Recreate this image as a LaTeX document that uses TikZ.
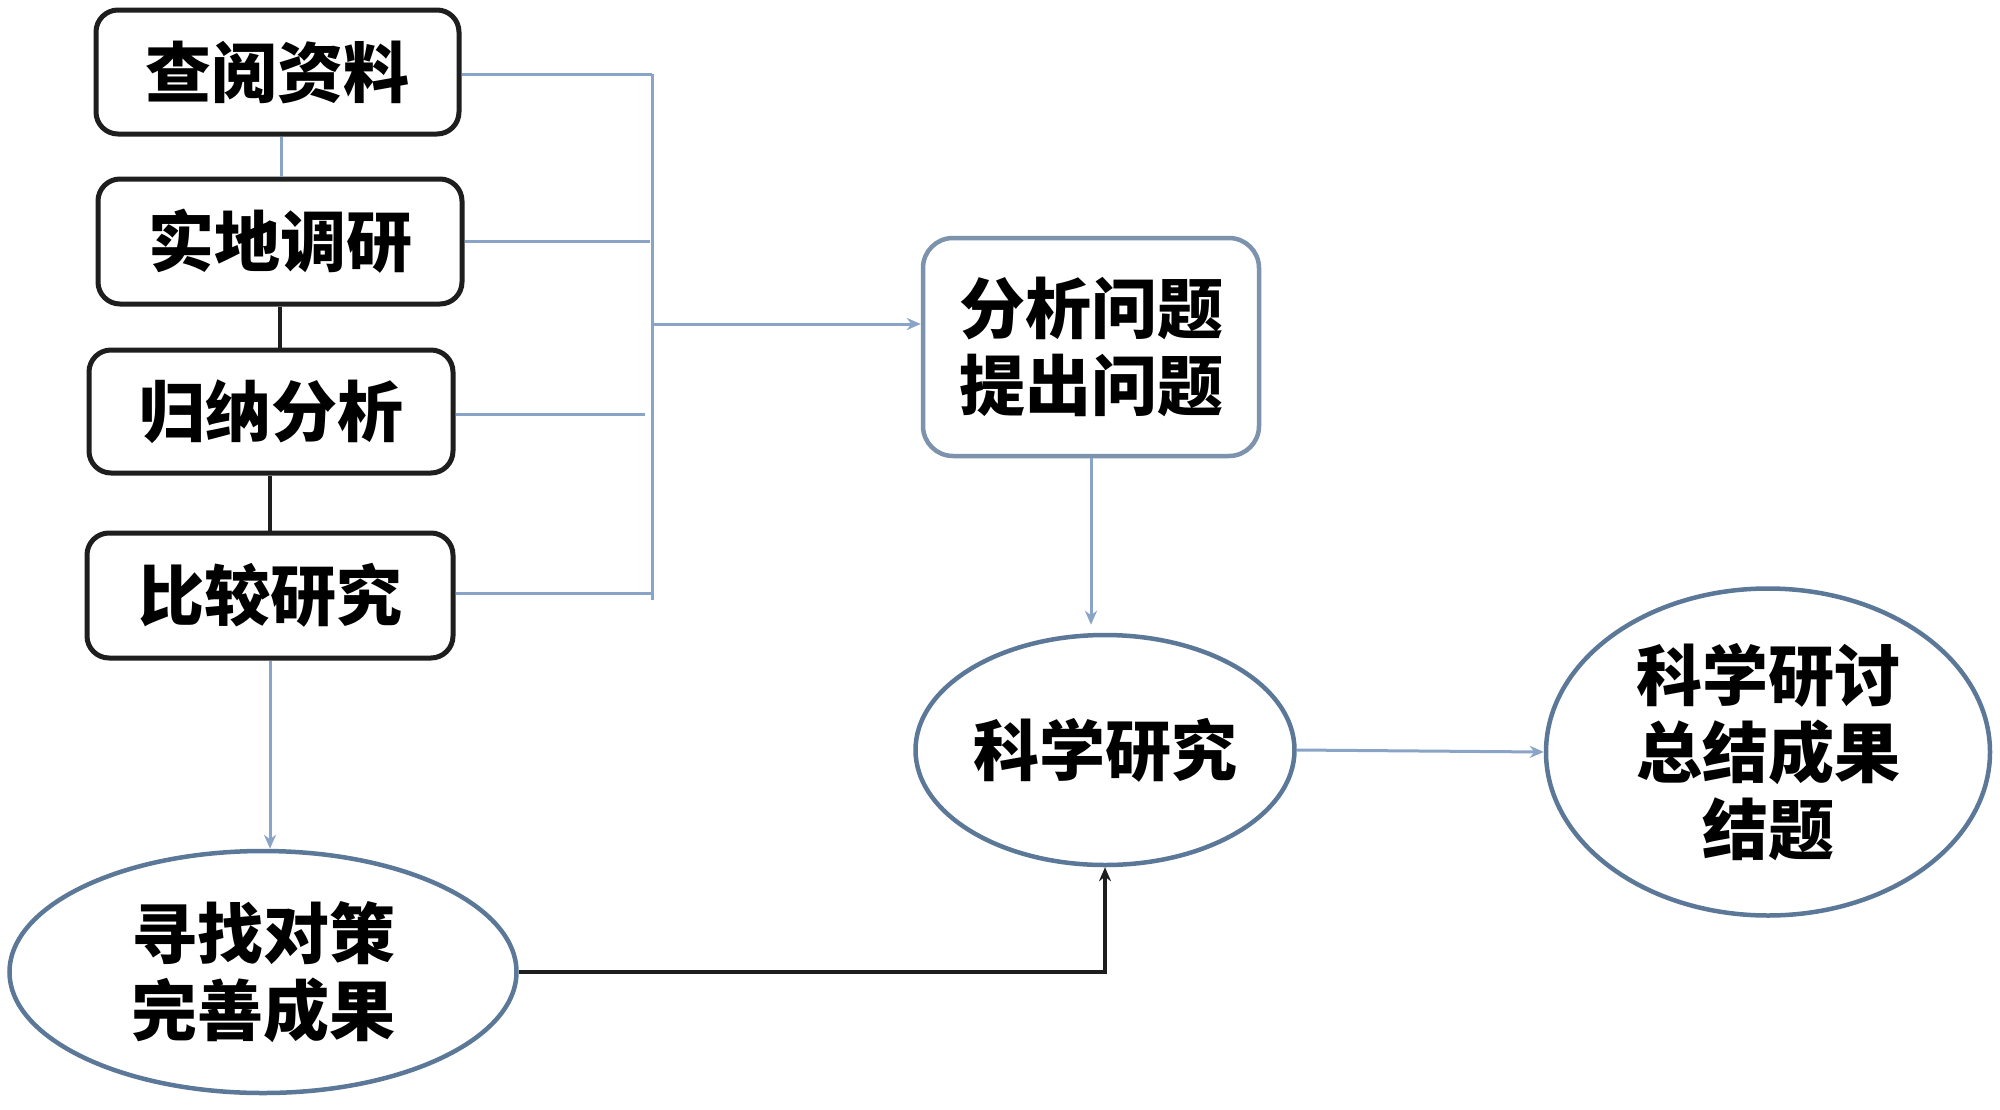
\documentclass[tikz,border=0pt]{standalone}
\usepackage{fontspec}
\newfontfamily\cjk{Noto Sans CJK SC}
\usetikzlibrary{arrows.meta,shapes.geometric}
\definecolor{lineblue}{HTML}{8AA4C8}
\definecolor{edgeblue}{HTML}{5C7898}
\definecolor{boxblack}{HTML}{1E1E1E}
\tikzset{
  txt/.style={font=\cjk\bfseries\fontsize{66}{77}\selectfont, align=center, inner sep=0pt},
  methodbox/.style={txt, draw=boxblack, line width=5pt, rounded corners=22pt},
  probbox/.style={txt, draw=edgeblue!80, line width=4.5pt, rounded corners=30pt},
  oval/.style={txt, ellipse, draw=edgeblue, line width=4.5pt},
  bluelink/.style={draw=lineblue, line width=3pt},
  blacklink/.style={draw=boxblack, line width=4pt},
  tip/.style={-{Stealth[length=14pt,width=12pt]}}
}
\begin{document}
\begin{tikzpicture}[x=1pt,y=-1pt]
\useasboundingbox (0,0) rectangle (2000,1109);
\fill[white] (0,0) rectangle (2000,1109);
% method boxes
\node[methodbox, minimum width=363pt, minimum height=124pt] (b1) at (277.5,72) {查阅资料};
\node[methodbox, minimum width=364pt, minimum height=125pt] (b2) at (280,241.5) {实地调研};
\node[methodbox, minimum width=364pt, minimum height=123pt] (b3) at (271,411.5) {归纳分析};
\node[methodbox, minimum width=366pt, minimum height=125pt] (b4) at (270,595.5) {比较研究};
% other nodes
\node[probbox, minimum width=336pt, minimum height=218pt] (p) at (1091,347) {分析问题\\提出问题};
\node[oval, minimum width=379pt, minimum height=230pt] (s) at (1105,750) {科学研究};
\node[oval, minimum width=444pt, minimum height=327pt] (r) at (1768,752) {科学研讨\\总结成果\\结题};
\node[oval, minimum width=507pt, minimum height=242pt] (l) at (263,972) {寻找对策\\完善成果};
% bus coordinates
\coordinate (bt) at (652,74);
\coordinate (bb) at (652,600);
\coordinate (j) at (652,324);
\coordinate (e2) at (650,241.5);
\coordinate (e3) at (645,414);
\coordinate (e4) at (652,593);
% vertical links between boxes
\draw[bluelink] (b1.south -| 281,0) -- (b2.north -| 281,0);
\draw[blacklink] (b2.south -| 280,0) -- (b3.north -| 280,0);
\draw[blacklink] (b3.south -| 270,0) -- (b4.north -| 270,0);
% bus
\draw[bluelink] (bt) -- (bb);
\draw[bluelink] (b1.east |- bt) -- (bt);
\draw[bluelink] (b2.east) -- (e2);
\draw[bluelink] (b3.east |- e3) -- (e3);
\draw[bluelink] (b4.east |- e4) -- (e4);
\draw[bluelink, tip] (j) -- (j -| p.west);
% problem -> research
\draw[bluelink, tip, shorten >=8pt] (p.south) -- (p.south |- s.north);
% compare -> strategy
\draw[bluelink, tip] (b4.south) -- (b4.south |- l.north);
% strategy -> research
\draw[blacklink, tip] (l.east) -| (s.south);
% research -> conclusion
\draw[bluelink, tip] (s.east) -- (r.west);
\end{tikzpicture}
\end{document}
